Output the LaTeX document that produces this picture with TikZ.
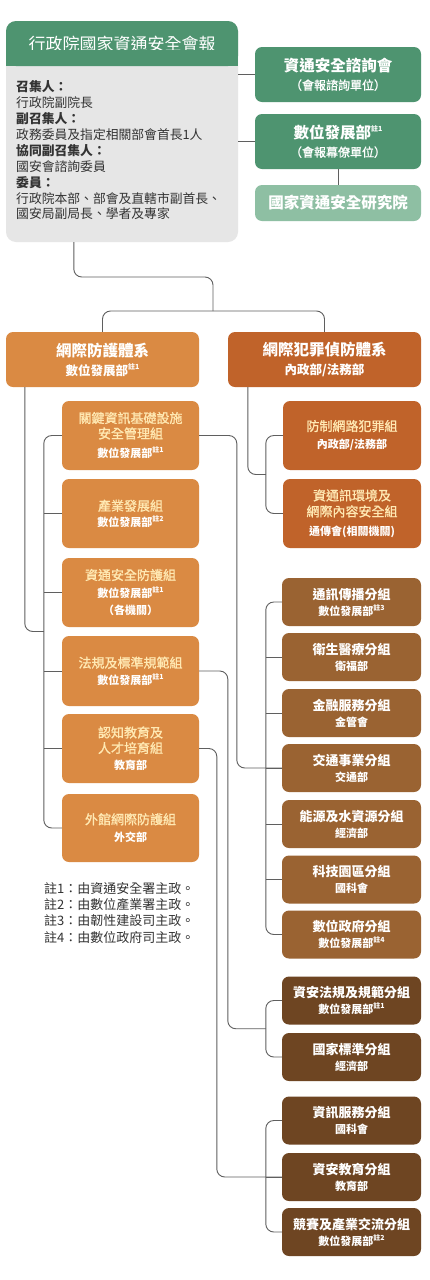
\documentclass[tikz,border=0pt]{standalone}
\usepackage{fontspec}
\setmainfont{Noto Sans CJK TC}
\newfontfamily\mfont[BoldFont={Noto Sans CJK TC},BoldFeatures={FakeBold=1.2}]{Noto Sans CJK TC}
\usetikzlibrary{calc}
\definecolor{cgreen}{HTML}{4E9470}
\definecolor{clgreen}{HTML}{8EBFA3}
\definecolor{cgray}{HTML}{E6E6E6}
\definecolor{corange}{HTML}{DA8A43}
\definecolor{ccrime}{HTML}{C0632A}
\definecolor{cbrown}{HTML}{9A6332}
\definecolor{cdbrown}{HTML}{6E4522}
\definecolor{ccream}{HTML}{FFE9B3}
\definecolor{cline}{HTML}{5F5F5F}
\definecolor{ctext}{HTML}{333333}
\newcommand\zsup[1]{\raisebox{0.45em}{\fontsize{7}{7}\selectfont 註#1}}
\newcommand\fs[2]{\fontsize{#1}{#2}\selectfont}
\newcommand\ct[1]{\textcolor{ccream}{{\mfont\bfseries #1}}}
\begin{document}
\begin{tikzpicture}[x=1pt,y=-1pt,
  box/.style={rounded corners=7pt, inner sep=0pt, align=center, text=white},
  obox/.style={box, fill=corange, minimum width=137pt, minimum height=69pt, font=\fs{13}{15.5}},
  cbox/.style={box, fill=ccrime, minimum width=138pt, minimum height=69pt, font=\fs{13}{16}},
  bbox/.style={box, fill=cbrown, minimum width=139pt, minimum height=48pt, font=\fs{13}{16}\bfseries},
  dbox/.style={bbox, fill=cdbrown},
  gbox/.style={box, fill=cgreen, minimum width=166pt, minimum height=55pt, font=\fs{15.5}{18}\bfseries},
  conn/.style={draw=cline, line width=0.9pt, rounded corners=8pt},
  tick/.style={draw=cline, line width=0.9pt}]
\useasboundingbox (0,0) rectangle (429,1280);
\fill[white] (0,0) rectangle (429,1280);

% top council box
\node[box, fill=cgray, rounded corners=10pt, minimum width=232pt, minimum height=221pt] (top) at (122,131.5) {};
\node[box, fill=cgreen, rounded corners=10pt, minimum width=232pt, minimum height=45pt, font=\fs{17}{20}] (hdr) at (122,43.5) {行政院國家資通安全會報};
\fill[cgreen] (6,50) rectangle (238,66);
\node[anchor=north west, inner sep=0pt, align=left, text=ctext, font=\fs{12.8}{15.9}] (topbody) at (16,80.5)
 {\textbf{召集人：}\\行政院副院長\\\textbf{副召集人：}\\政務委員及指定相關部會首長1人\\\textbf{協同副召集人：}\\國安會諮詢委員\\\textbf{委員：}\\行政院本部、部會及直轄市副首長、\\國安局副局長、學者及專家};

\node[gbox] (adv) at (338,74.5) {資通安全諮詢會\\{\fs{12}{14}\mfont\bfseries （會報諮詢單位）}};
\node[gbox] (moda) at (338,141.5) {數位發展部\zsup{1}\\{\fs{12}{14}\mfont\bfseries （會報幕僚單位）}};
\node[box, fill=clgreen, minimum width=166pt, minimum height=36pt, font=\fs{15.5}{18}\bfseries] (nics) at (338,203) {國家資通安全研究院};

% two systems
\node[box, fill=corange, minimum width=193pt, minimum height=55pt, font=\fs{15.5}{19}\bfseries] (def) at (102.5,359.5) {網際防護體系\\{\fs{12.5}{14}數位發展部\zsup{1}}};
\node[box, fill=ccrime, minimum width=193pt, minimum height=55pt, font=\fs{15.5}{19}\bfseries] (crime) at (324.5,359.5) {網際犯罪偵防體系\\{\fs{12.5}{14}內政部/法務部}};

% defense groups
\node[obox] (k1) at (130.5,435.5) {\ct{關鍵資訊基礎設施}\\\ct{安全管理組}\\[4pt]{\fs{11}{13}\bfseries 數位發展部\zsup{1}}};
\node[obox] (k2) at (130.5,513.5) {\ct{產業發展組}\\{\fs{11}{13}\bfseries 數位發展部\zsup{2}}};
\node[obox] (k3) at (130.5,592.5) {\ct{資通安全防護組}\\[2pt]{\fs{11}{13}\bfseries 數位發展部\zsup{1}}\\[2pt]{\fs{11}{13}\bfseries （各機關）}};
\node[obox, minimum height=70pt] (k4) at (130.5,671) {\ct{法規及標準規範組}\\[1pt]{\fs{11}{13}\bfseries 數位發展部\zsup{1}}};
\node[obox] (k5) at (130.5,748.5) {\ct{認知教育及}\\\ct{人才培育組}\\[1pt]{\fs{11}{13}\bfseries 教育部}};
\node[obox, minimum height=68pt] (k6) at (130.5,828) {\ct{外館網際防護組}\\[2pt]{\fs{11}{13}\bfseries 外交部}};

% crime groups
\node[cbox] (c1) at (352,435.5) {\ct{防制網路犯罪組}\\[2pt]{\fs{11}{13}\bfseries 內政部/法務部}};
\node[cbox] (c2) at (352,513.5) {\ct{資通訊環境及}\\\ct{網際內容安全組}\\[3pt]{\fs{11}{13}\bfseries 通傳會(相關機關)}};

% sector sub-groups
\node[bbox] (b1) at (351.5,602) {通訊傳播分組\\{\fs{11}{13}數位發展部\zsup{3}}};
\node[bbox] (b2) at (351.5,657) {衛生醫療分組\\{\fs{11}{13}衛福部}};
\node[bbox] (b3) at (351.5,713) {金融服務分組\\{\fs{11}{13}金管會}};
\node[bbox] (b4) at (351.5,768) {交通事業分組\\{\fs{11}{13}交通部}};
\node[bbox] (b5) at (351.5,824) {能源及水資源分組\\{\fs{11}{13}經濟部}};
\node[bbox] (b6) at (351.5,879.5) {科技園區分組\\{\fs{11}{13}國科會}};
\node[bbox] (b7) at (351.5,934.5) {數位政府分組\\{\fs{11}{13}數位發展部\zsup{4}}};

\node[dbox] (d1) at (351.5,1000.5) {資安法規及規範分組\\{\fs{11}{13}數位發展部\zsup{1}}};
\node[dbox] (d2) at (351.5,1057) {國家標準分組\\{\fs{11}{13}經濟部}};
\node[dbox] (d3) at (351.5,1120.5) {資訊服務分組\\{\fs{11}{13}國科會}};
\node[dbox] (d4) at (351.5,1177) {資安教育分組\\{\fs{11}{13}教育部}};
\node[dbox] (d5) at (351.5,1232) {競賽及產業交流分組\\{\fs{11}{13}數位發展部\zsup{2}}};

% notes
\node[anchor=north west, inner sep=0pt, align=left, text=ctext, font=\fs{13}{16.3}] (notes) at (44,882)
 {註1：由資通安全署主政。\\註2：由數位產業署主政。\\註3：由韌性建設司主政。\\註4：由數位政府司主政。};

% connectors: top
\draw[tick] (adv.west) -- (adv.west -| top.east);
\draw[tick] (moda.west) -- (moda.west -| top.east);
\draw[tick] (moda.south) -- (nics.north);
\coordinate (j1) at (213,277);
\coordinate (j2) at (213,311);
\draw[conn] ($(top.south west)+(68,0)$) |- (j1) -- (j2);
\draw[conn] (def.north) |- (j2) -| (crime.north);

% defense bracket
\draw[conn] (k1.west) -| ($(k6.west)+(-18,0)$) -- (k6.west);
\foreach \n in {k2,k3,k4,k5} {\draw[tick] (\n.west) -- ++(-18,0);}
\coordinate (jd) at ($(k3.south west)!0.5!(k4.north west)+(-18,0)$);
\draw[conn] ($(def.south west)+(19,0)$) |- (jd);

% crime bracket
\draw[conn] (c1.west) -| ($(c2.west)+(-17,0)$) -- (c2.west);
\coordinate (jc) at ($(c1.south west)!0.5!(c2.north west)+(-17,0)$);
\draw[conn] ($(crime.south west)+(20,0)$) |- (jc);

% sector brackets
\draw[conn] (b1.west) -| ($(b7.west)+(-16,0)$) -- (b7.west);
\foreach \n in {b2,b3,b4,b5,b6} {\draw[tick] (\n.west) -- ++(-16,0);}
\draw[conn] (k1.east) -| ($(b4.west)+(-45,0)$) -- (b4.west);

\draw[conn] (d1.west) -| ($(d2.west)+(-16,0)$) -- (d2.west);
\coordinate (jd2) at ($(d1.south west)!0.5!(d2.north west)+(-16,0)$);
\draw[conn] (k4.east) -| ($(jd2)+(-38,0)$) -- (jd2);

\draw[conn] (d3.west) -| ($(d5.west)+(-16,0)$) -- (d5.west);
\draw[tick] (d4.west) -- ++(-16,0);
\draw[conn] (k5.east) -| ($(d4.west)+(-65,0)$) -- (d4.west);
\end{tikzpicture}
\end{document}
